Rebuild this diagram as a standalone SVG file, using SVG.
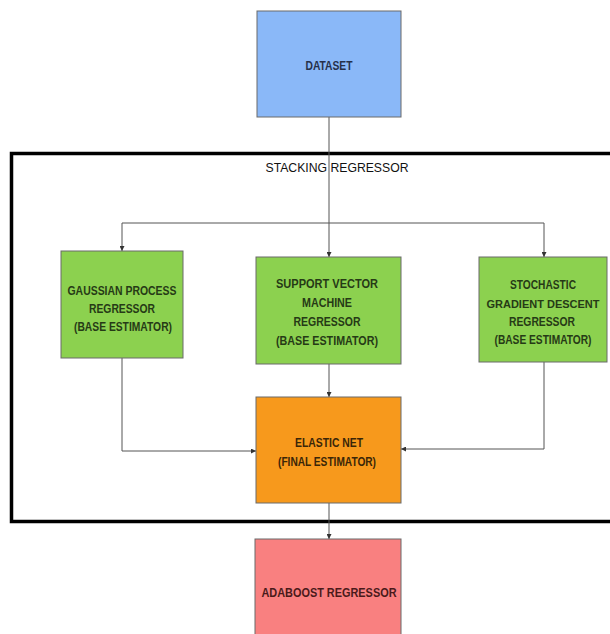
<svg xmlns="http://www.w3.org/2000/svg" width="610" height="634" viewBox="0 0 610 634">
<style>
.box{stroke:#6a6a6a;stroke-width:1}
.t{font-family:"Liberation Sans",Arial,sans-serif;font-weight:bold;font-size:12px;text-anchor:middle}
.c{fill:none;stroke:#555;stroke-width:1}
.frame{fill:none;stroke:#000;stroke-width:3.5}
</style>
<defs>
<marker id="ah" viewBox="0 0 6 6" refX="6" refY="3" markerWidth="5" markerHeight="5" orient="auto" markerUnits="userSpaceOnUse">
<path d="M0,0 L6,3 L0,6 Z" fill="#333"/>
</marker>
</defs>
<rect width="610" height="634" fill="#fff"/>
<g id="stacking-frame">
<path class="frame" d="M612,153.5 H11.5 V521.5 H612"/>
<text x="337" y="171.5" textLength="143" lengthAdjust="spacingAndGlyphs" style="font-family:'Liberation Sans',Arial,sans-serif;font-size:13.5px;text-anchor:middle" fill="#111">STACKING REGRESSOR</text>
</g>
<g id="connectors">
<path class="c" d="M329,117 V223"/>
<path class="c" d="M122,223 H544"/>
<path class="c" d="M122,223 V251" marker-end="url(#ah)"/>
<path class="c" d="M329,223 V257" marker-end="url(#ah)"/>
<path class="c" d="M544,223 V257" marker-end="url(#ah)"/>
<path class="c" d="M329,364 V397" marker-end="url(#ah)"/>
<path class="c" d="M122,358 V451 H256" marker-end="url(#ah)"/>
<path class="c" d="M544,362 V449 H401" marker-end="url(#ah)"/>
<path class="c" d="M329,503 V539" marker-end="url(#ah)"/>
</g>
<g id="dataset">
<rect class="box" x="257" y="11" width="144" height="106" fill="#8ab8f8"/>
<text class="t" x="329" y="69.5" textLength="47" lengthAdjust="spacingAndGlyphs" fill="#26304a">DATASET</text>
</g>
<g id="gpr">
<rect class="box" x="61" y="251" width="122" height="107" fill="#8cd14f"/>
<text class="t" x="122" y="294.5" textLength="109" lengthAdjust="spacingAndGlyphs" fill="#263a16">GAUSSIAN PROCESS</text>
<text class="t" x="122" y="312.5" textLength="66" lengthAdjust="spacingAndGlyphs" fill="#263a16">REGRESSOR</text>
<text class="t" x="123" y="330.5" textLength="98" lengthAdjust="spacingAndGlyphs" fill="#263a16">(BASE ESTIMATOR)</text>
</g>
<g id="svm">
<rect class="box" x="256" y="257" width="145" height="107" fill="#8cd14f"/>
<text class="t" x="327" y="287.5" textLength="102" lengthAdjust="spacingAndGlyphs" fill="#263a16">SUPPORT VECTOR</text>
<text class="t" x="327" y="306.5" textLength="50" lengthAdjust="spacingAndGlyphs" fill="#263a16">MACHINE</text>
<text class="t" x="327" y="325.5" textLength="67" lengthAdjust="spacingAndGlyphs" fill="#263a16">REGRESSOR</text>
<text class="t" x="327" y="344.5" textLength="102" lengthAdjust="spacingAndGlyphs" fill="#263a16">(BASE ESTIMATOR)</text>
</g>
<g id="sgd">
<rect class="box" x="479" y="257" width="128" height="105" fill="#8cd14f"/>
<text class="t" x="543" y="288.5" textLength="66" lengthAdjust="spacingAndGlyphs" fill="#263a16">STOCHASTIC</text>
<text class="t" x="543" y="307.5" style="font-size:11px" fill="#263a16">GRADIENT DESCENT</text>
<text class="t" x="542" y="325.5" textLength="66" lengthAdjust="spacingAndGlyphs" fill="#263a16">REGRESSOR</text>
<text class="t" x="543" y="343.5" textLength="97" lengthAdjust="spacingAndGlyphs" fill="#263a16">(BASE ESTIMATOR)</text>
</g>
<g id="elastic-net">
<rect class="box" x="256" y="397" width="145" height="106" fill="#f7991c"/>
<text class="t" x="329" y="446.5" textLength="68" lengthAdjust="spacingAndGlyphs" fill="#3a2608">ELASTIC NET</text>
<text class="t" x="327" y="465.5" textLength="98" lengthAdjust="spacingAndGlyphs" fill="#3a2608">(FINAL ESTIMATOR)</text>
</g>
<g id="adaboost">
<rect class="box" x="255" y="539" width="146" height="100" fill="#f98080"/>
<text class="t" x="329" y="596.5" textLength="135" lengthAdjust="spacingAndGlyphs" fill="#4a1a1a">ADABOOST REGRESSOR</text>
</g>
</svg>
